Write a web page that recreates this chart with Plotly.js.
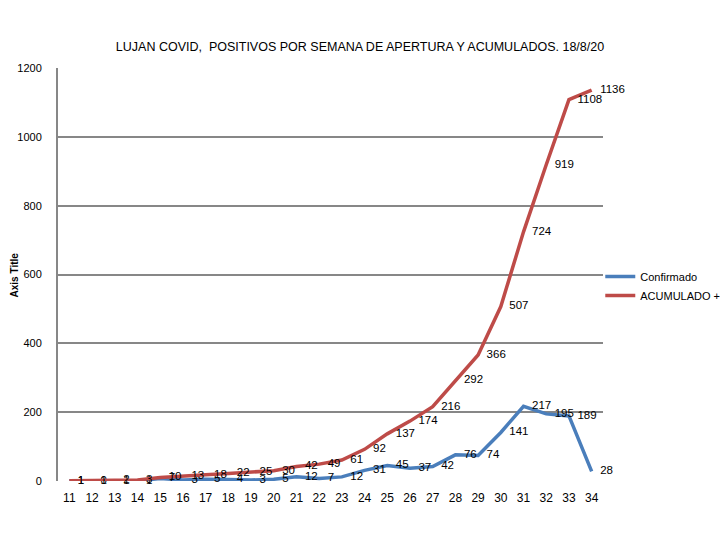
<!DOCTYPE html>
<html>
<head>
<meta charset="utf-8">
<script src="https://cdn.plot.ly/plotly-3.0.1.min.js"></script>
<style>
  html, body { margin: 0; padding: 0; background: #fff; }
  #myPlot { width: 720px; height: 540px; }
</style>
</head>
<body>
<div id="myPlot"></div>
<script>
// semanas epidemiologicas (eje x)
const semanas = ['11','12','13','14','15','16','17','18','19','20','21','22',
                 '23','24','25','26','27','28','29','30','31','32','33','34'];
// positivos confirmados por semana de apertura
const confirmado = [1, 0, 1, 1, 7, 3, 5, 4, 3, 5, 12, 7,
                    12, 31, 45, 37, 42, 76, 74, 141, 217, 195, 189, 28];
// acumulado
const acumulado = [1, 1, 2, 3, 10, 13, 18, 22, 25, 30, 42, 49,
                   61, 92, 137, 174, 216, 292, 366, 507, 724, 919, 1108, 1136];

const FONT = 'Liberation Sans, Arial, sans-serif';

const myPlotDiv = document.getElementById('myPlot');

// invisible markers only used to push the data labels a bit to the right
var trace0 = {
    x: semanas,
    y: confirmado,
    name: 'Confirmado',
    type: 'scatter',
    mode: 'lines+markers+text',
    line: { color: '#4A7EBB', width: 3.5 },
    marker: { size: 12, color: 'rgba(0,0,0,0)', line: { width: 0 } },
    text: confirmado.map(String),
    textposition: 'middle right',
    textfont: { family: FONT, size: 11.5, color: '#000' },
    cliponaxis: false
};

var trace1 = {
    x: semanas,
    y: acumulado,
    name: 'ACUMULADO +',
    type: 'scatter',
    mode: 'lines+markers+text',
    line: { color: '#BE4B48', width: 3.5 },
    marker: { size: 12, color: 'rgba(0,0,0,0)', line: { width: 0 } },
    text: acumulado.map(String),
    textposition: 'middle right',
    textfont: { family: FONT, size: 11.5, color: '#000' },
    cliponaxis: false
};

var data = [trace0, trace1];

const layout = {
    width: 720,
    height: 540,
    paper_bgcolor: '#fff',
    plot_bgcolor: '#fff',
    font: { family: FONT, size: 11, color: '#000' },
    title: {
        text: 'LUJAN COVID,  POSITIVOS POR SEMANA DE APERTURA Y ACUMULADOS. 18/8/20',
        font: { family: FONT, size: 12.5, color: '#000' },
        x: 0.5,
        xanchor: 'center',
        y: 0.913,
        yanchor: 'middle'
    },
    margin: { l: 58, r: 117, t: 68, b: 59, pad: 0, autoexpand: false },
    xaxis: {
        type: 'category',
        range: [-0.5, 23.5],
        showgrid: false,
        zeroline: false,
        showline: false,
        ticks: '',
        ticklabelstandoff: 8,
        tickfont: { family: FONT, size: 12 },
        fixedrange: true
    },
    yaxis: {
        range: [0, 1200],
        dtick: 200,
        tickformat: 'd',
        showgrid: true,
        gridcolor: '#878787',
        gridwidth: 2,
        zeroline: false,
        showline: true,
        linecolor: '#878787',
        linewidth: 2,
        ticks: '',
        ticklabelstandoff: 12,
        tickfont: { family: FONT, size: 11 }
    },
    // y axis title placed by hand (standoff is ignored without automargin)
    annotations: [{
        text: '<b>Axis Title</b>',
        xref: 'paper',
        yref: 'paper',
        x: -0.079,
        y: 0.5,
        xanchor: 'center',
        yanchor: 'middle',
        textangle: -90,
        showarrow: false,
        font: { family: FONT, size: 10, color: '#000' }
    }],
    legend: {
        x: 0.995,
        xanchor: 'left',
        y: 0.53,
        yanchor: 'top',
        bgcolor: 'rgba(0,0,0,0)',
        font: { family: FONT, size: 11 },
        itemwidth: 30,
        tracegroupgap: 0
    },
    showlegend: true
};

Plotly.newPlot(myPlotDiv, data, layout, { staticPlot: true });
</script>
</body>
</html>
